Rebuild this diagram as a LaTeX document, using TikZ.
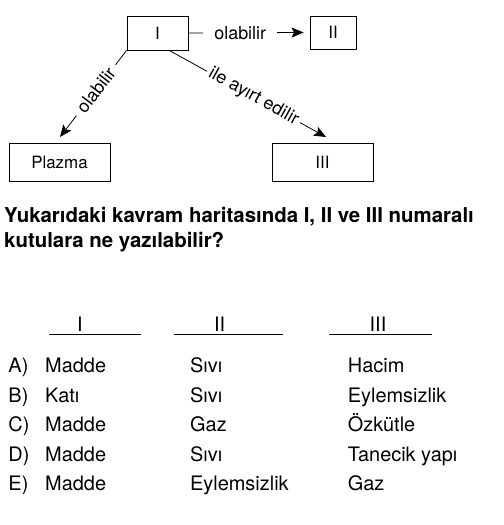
\documentclass[tikz,border=0pt]{standalone}
\usepackage{fontspec}
\setmainfont{TeX Gyre Heros}
\usetikzlibrary{arrows.meta}
\begin{document}
\begin{tikzpicture}[x=1bp,y=-1bp,
    kutu/.style={draw,line width=0.8bp,inner sep=0pt,font=\fontsize{17}{20}\selectfont},
    ok/.style={line width=0.8bp,-{Stealth[length=12bp,width=10bp,inset=2.5bp]}},
    etiket/.style={fill=white,inner ysep=3bp,font=\fontsize{18}{20}\selectfont},
    cevap/.style={anchor=base west,inner sep=0pt,font=\fontsize{20}{24}\selectfont},
    baslik/.style={anchor=base,inner sep=0pt,font=\fontsize{20}{24}\selectfont}]
            \useasboundingbox (0,0) rectangle (504,525);

            % kavram haritasi
            \node[kutu,minimum width=61bp,minimum height=34bp] (I) at (157.5,33) {I};
            \node[kutu,minimum width=46bp,minimum height=33bp] (II) at (333,32.5) {II};
            \node[kutu,minimum width=101bp,minimum height=38bp] (plz) at (59.5,162) {Plazma};
            \node[kutu,minimum width=101bp,minimum height=38bp] (III) at (322.5,162) {III};

            \coordinate (a) at (168.5,50);
            \coordinate (t1) at (60,137);
            \coordinate (t3) at (326,137);

            \draw[ok] (I.east) -- node[etiket,inner xsep=11bp,pos=0.45] {olabilir} ([xshift=-6bp]II.west);
            \draw[ok] (I.south west) -- node[etiket,inner xsep=6bp,sloped,pos=0.46] {olabilir} (t1);
            \draw[ok] (a) -- node[etiket,inner xsep=3bp,sloped,pos=0.54] {ile ayırt edilir} (t3);

            % soru
            \node[anchor=base west,inner sep=0pt,font=\fontsize{20.5}{25}\bfseries] (s1) at (4,222.3)
                {Yukarıdaki kavram haritasında I, II ve III numaralı};
            \node[anchor=base west,inner sep=0pt,font=\fontsize{20.5}{25}\bfseries] (s2) at (4,247.3)
                {kutulara ne yazılabilir?};

            % secenekler
            \node[baslik] (h1) at (80,331) {I};
            \node[baslik] (h2) at (219.7,331) {II};
            \node[baslik] (h3) at (378,331) {III};
            \draw[line width=0.8bp] (49.3,334) -- (140.7,334);
            \draw[line width=0.8bp] (174,334) -- (282.7,334);
            \draw[line width=0.8bp] (329.3,334) -- (431.7,334);

            \foreach \h/\a/\b/\c [count=\i from 0] in {A/Madde/Sıvı/Hacim,B/Katı/Sıvı/Eylemsizlik,
                C/Madde/Gaz/Özkütle,D/Madde/Sıvı/Tanecik yapı,E/Madde/Eylemsizlik/Gaz}{
              \node[cevap] (h\h) at (8.3,372.7+29.5*\i) {\h)};
              \node[cevap] (a\h) at (45,372.7+29.5*\i) {\a};
              \node[cevap] (b\h) at (190,372.7+29.5*\i) {\b};
              \node[cevap] (c\h) at (347.7,372.7+29.5*\i) {\c};
            }
          \end{tikzpicture}
\end{document}
